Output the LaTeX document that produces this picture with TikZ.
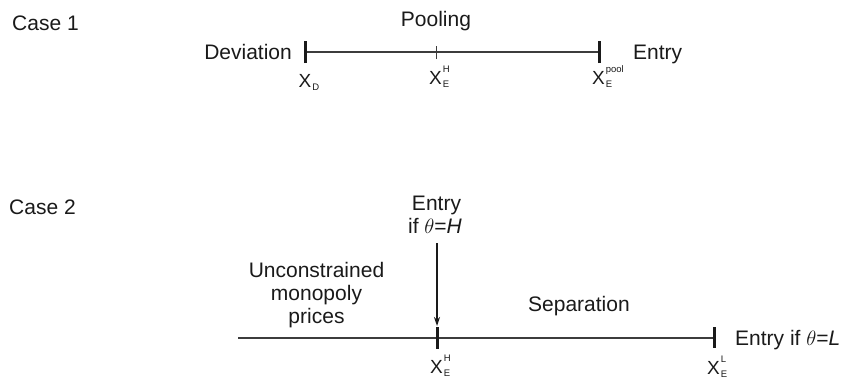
\documentclass[tikz,border=0pt]{standalone}
\usepackage{fontspec}
\setmainfont{Liberation Sans}
\usetikzlibrary{arrows.meta}
\definecolor{ink}{HTML}{1A1A1A}
\definecolor{axis}{HTML}{3C3C3C}
\tikzset{
  txt/.style={inner sep=0pt, text=ink, font=\fontsize{21}{24}\selectfont},
  xlab/.style={inner sep=0pt, text=ink, font=\fontsize{19}{20}\selectfont, anchor=base},
  idx/.style={inner sep=0pt, text=ink, font=\fontsize{9.5}{10}\selectfont},
  axisline/.style={draw=axis, line width=1.3pt},
  bigtick/.style={draw=ink, line width=3pt},
  smalltick/.style={draw=axis, line width=1pt},
  pointer/.style={draw=ink, line width=1.4pt, -{Stealth[length=9pt,width=6pt]}}
}
\begin{document}
\begin{tikzpicture}[x=1pt,y=-1pt]
\useasboundingbox (0,0) rectangle (846,380);

% ---------- Case 1 ----------
\node[txt, anchor=base west] (c1) at (12,30) {Case 1};
\node[txt, anchor=base] (pool) at (436,27) {Pooling};
\node[txt, anchor=base east] (dev) at (292,59) {Deviation};
\node[txt, anchor=base west] (ent1) at (633,59) {Entry};

\coordinate (a1) at (305.5,52);
\coordinate (b1) at (599,52);
\coordinate (m1) at (436,52);
\draw[axisline] (a1) -- (b1);
\draw[bigtick] ([yshift=-11pt]a1) -- ([yshift=11pt]a1);
\draw[bigtick] ([yshift=-11pt]b1) -- ([yshift=11pt]b1);
\draw[smalltick] ([yshift=-7pt]m1) -- ([yshift=6.5pt]m1);

\node[xlab] (xd) at (305,87) {X};
\node[idx, anchor=base west] (xdsub) at ([xshift=0.6pt,yshift=-3pt]xd.base east) {D};

\node[xlab] (xh1) at (435.5,84) {X};
\node[idx, anchor=base west] (xh1sub) at ([xshift=0.6pt,yshift=-3pt]xh1.base east) {E};
\node[idx, anchor=base west] (xh1sup) at ([xshift=0.6pt,yshift=11.5pt]xh1.base east) {H};

\node[xlab] (xp) at (598.5,84) {X};
\node[idx, anchor=base west] (xpsub) at ([xshift=0.6pt,yshift=-3pt]xp.base east) {E};
\node[idx, anchor=base west] (xpsup) at ([xshift=0.6pt,yshift=11.5pt]xp.base east) {pool};

% ---------- Case 2 ----------
\node[txt, anchor=base west] (c2) at (9,214) {Case 2};
\node[txt, anchor=base] (ent2) at (436.5,210) {Entry};
\node[txt, anchor=base] (ifh) at (435,233) {if $\theta$=\textit{H}};
\node[txt, anchor=base] (unc) at (316.5,277) {Unconstrained};
\node[txt, anchor=base] (mono) at (316.5,300.5) {monopoly};
\node[txt, anchor=base] (pric) at (316.5,323.5) {prices};
\node[txt, anchor=base west] (sep) at (528,311) {Separation};
\node[txt, anchor=base west] (entl) at (735,345) {Entry if $\theta$=\textit{L}};

\coordinate (a2) at (238,338);
\coordinate (h2) at (437,338);
\coordinate (b2) at (714,338);
\draw[axisline] (a2) -- (b2);
\draw[bigtick] ([yshift=-10.5pt]h2) -- ([yshift=11.5pt]h2);
\draw[bigtick] ([yshift=-9.5pt]b2) -- ([yshift=11.5pt]b2);

\coordinate (arrs) at (437,243);
\coordinate (arre) at (437,326);
\draw[pointer] (arrs) -- (arre);

\node[xlab] (xh2) at (436.5,373) {X};
\node[idx, anchor=base west] (xh2sub) at ([xshift=0.6pt,yshift=-3pt]xh2.base east) {E};
\node[idx, anchor=base west] (xh2sup) at ([xshift=0.6pt,yshift=11.5pt]xh2.base east) {H};

\node[xlab] (xl2) at (713.5,374) {X};
\node[idx, anchor=base west] (xl2sub) at ([xshift=0.6pt,yshift=-3pt]xl2.base east) {E};
\node[idx, anchor=base west] (xl2sup) at ([xshift=0.6pt,yshift=11.5pt]xl2.base east) {L};
\end{tikzpicture}
\end{document}
